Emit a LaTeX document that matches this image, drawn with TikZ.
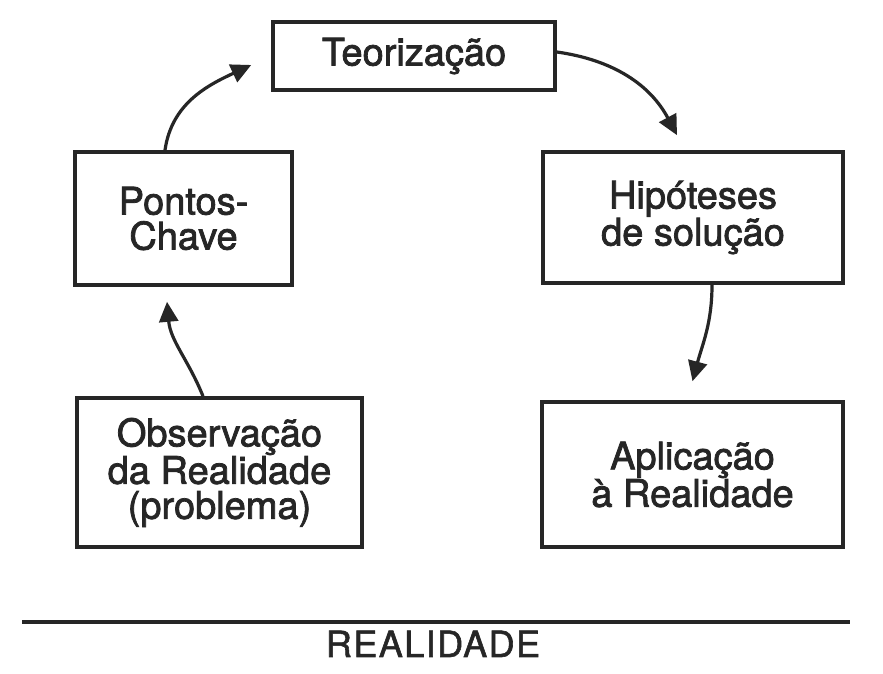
\documentclass[tikz,border=0pt]{standalone}
\usepackage{fontspec}
\setmainfont{TeX Gyre Heros}
\usetikzlibrary{arrows.meta}
\begin{document}
\begin{tikzpicture}[x=1pt,y=1pt,
  box/.style={draw=black!85, line width=3.6pt, rectangle, align=center,
    text=black!85, inner sep=0pt,
    font=\fontsize{38}{35}\selectfont\addfontfeature{FakeBold=2}},
  arr/.style={draw=black!85, line width=3.2pt,
    -{Triangle[length=20pt,width=19pt]}}]
\useasboundingbox (0,0) rectangle (883,674);
\fill[white] (0,0) rectangle (883,674);
\node[box, minimum width=282pt, minimum height=68pt] (teo) at (414,618) {Teorização};
\node[box, minimum width=217pt, minimum height=133pt] (pon) at (183.5,455.5) {Pontos-\\Chave};
\node[box, minimum width=300pt, minimum height=131pt] (hip) at (693,456.5) {Hipóteses\\de solução};
\node[box, minimum width=285pt, minimum height=149pt] (obs) at (219.5,201.5) {Observação\\da Realidade\\(problema)};
\node[box, minimum width=301pt, minimum height=145pt] (apl) at (692.5,199.5) {Aplicação\\à Realidade};
\coordinate (la) at (22,52);
\coordinate (lb) at (850,52);
\draw[draw=black!85, line width=3.2pt] (la) -- (lb);
\node[text=black!85, font=\fontsize{36}{40}\selectfont\addfontfeature{LetterSpace=4,FakeBold=1.6}, anchor=base] (real) at (433,17) {REALIDADE};
\draw[arr] ([xshift=-18.5pt]pon.north) to[out=82,in=205] ([xshift=-20pt,yshift=-9pt]teo.west);
\draw[arr] ([yshift=4pt]teo.east) to[out=-8,in=118] ([xshift=-16pt,yshift=15pt]hip.north);
\draw[arr] ([xshift=19pt]hip.south) to[out=-90,in=75] ([yshift=19pt]apl.north);
\draw[arr] ([xshift=-16.5pt]obs.north) to[out=112,in=-85] ([xshift=-16.5pt,yshift=-15pt]pon.south);
\end{tikzpicture}
\end{document}
